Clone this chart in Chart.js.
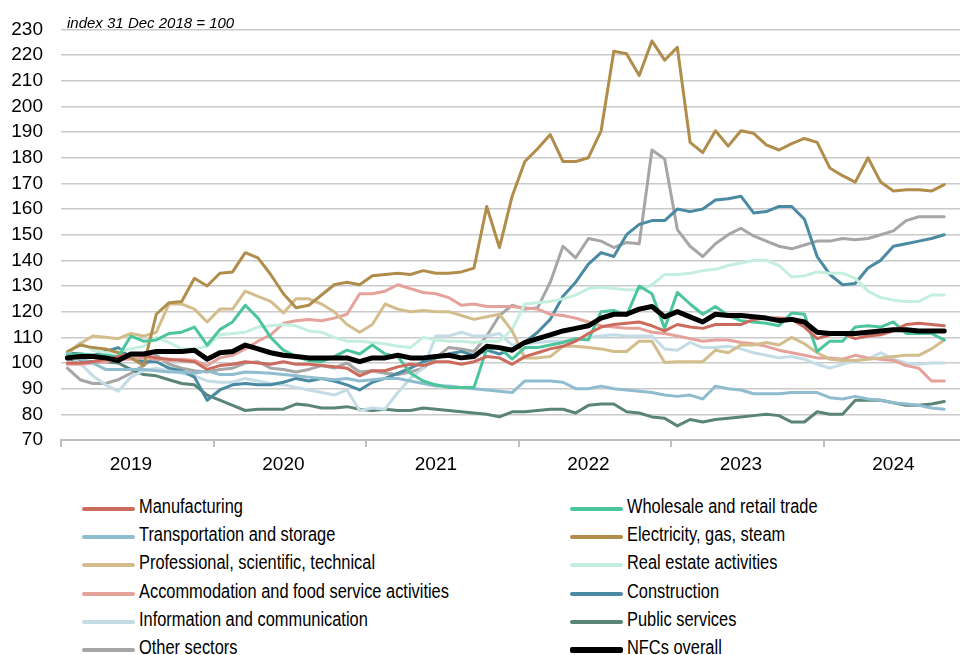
<!DOCTYPE html>
<html>
<head>
<meta charset="utf-8">
<script src="https://cdn.jsdelivr.net/npm/chart.js@4.4.1/dist/chart.umd.min.js"></script>
<style>
    body { margin: 0; background: #fff; overflow: hidden; width: 960px; height: 655px; position: relative; }
    #wrap { position: absolute; left: 0; top: 0; width: 976px; height: 485px; }
    #note { position: absolute; left: 67px; top: 14px; font: italic 15px 'Liberation Sans', Arial, sans-serif; color: #000; }
    .item { position: absolute; height: 28px; line-height: 28px; white-space: nowrap;
        font: 20px 'Liberation Sans', Arial, sans-serif; color: #000; }
    .item span.swatch { position: absolute; top: 12px; height: 4px; width: 53px; border-radius: 2px; }
    .item span.txt { position: absolute; transform: scaleX(0.82); transform-origin: 0 50%; }
</style>
</head>
<body>
<div id="wrap"><canvas id="myChart" width="976" height="485"></canvas></div>
<div id="note">index 31 Dec 2018 = 100</div>
<div id="legend"></div>

<script>
    // monthly, Jan 2019 - Oct 2024 (axis runs to Dec 2024)
    var years = ['2019', '2020', '2021', '2022', '2023', '2024'];

    var names = ['Manufacturing', 'Wholesale and retail trade', 'Transportation and storage', 'Electricity, gas, steam',
        'Professional, scientific, technical', 'Real estate activities', 'Accommodation and food service activities',
        'Construction', 'Information and communication', 'Public services', 'Other sectors', 'NFCs overall'];

    var colors = ['#cb6b5e', '#4cc59a', '#8fbccf', '#b08d4a', '#d3bd8c', '#c4eedd', '#e4a29b',
        '#4a8aa2', '#c4dce5', '#5a8474', '#a6a6a6', '#000000'];

    var manufacturing = [100, 100, 100.5, 101.5, 102.5, 103, 103, 102, 101.5, 101, 100.5, 97.5, 99, 99.5, 100.5,
        100, 99.5, 100.5, 99.5, 99.5, 99, 98.5, 98, 95, 97, 97, 98.5, 99.5, 99,
        100.5, 100.5, 99.5, 100.5, 102.5, 102, 99.5, 102.5, 104, 105.5, 106.5, 108.5, 111.5, 114,
        115, 115.5, 116, 114.5, 112.5, 115, 114, 113.5, 115, 115, 115, 117, 117.5, 117.5, 117,
        114, 109.5, 111, 111.5, 109.5, 110.5, 111, 112.5, 115, 115.5, 115, 114.5];

    var wholesale = [103, 103.5, 103, 103, 102.5, 110.5, 108.5, 109, 111.5, 112, 114, 107, 113, 116, 122.5,
        117.5, 110, 105, 102.5, 101, 100.5, 102.5, 105, 103.5, 107, 103.5, 102.5, 96, 93,
        91.5, 90.5, 90.5, 90.5, 105.5, 106, 101.5, 106, 106, 107, 108, 109.5, 109, 120,
        120.5, 118.5, 130, 127, 113.5, 127.5, 123, 119, 122, 118.5, 116.5, 116, 115.5, 114.5, 119.5,
        119, 104.5, 108.5, 108.5, 114, 114.5, 114, 116, 111.5, 111.5, 111.5, 109];

    var transport = [104, 101.5, 100, 97.5, 97.5, 97.5, 97.5, 97, 96.5, 96.5, 96, 97, 95.5, 95.5, 96.5,
        96.3, 96, 95.5, 95, 94.5, 94, 93.5, 94, 93, 93.5, 94, 94, 93, 92,
        91, 91, 90.5, 90, 89.5, 89, 88.5, 93, 93, 93, 92.5, 90, 90, 91,
        90, 89.5, 89, 88.5, 87.5, 87, 87.5, 86, 91, 90, 89.5, 88, 88, 88, 88.5,
        88.5, 88.5, 86.5, 86, 87, 86, 85.5, 84.5, 84, 83.5, 82.5, 82];

    var electricity = [104.5, 107, 106, 105.5, 104, 102, 99, 119, 123.5, 124, 133, 130, 135, 135.5, 143,
        141, 134.5, 127, 121.5, 122.5, 126.5, 130.5, 131.5, 130.5, 134, 134.5, 135, 134.5, 136,
        135, 135, 135.5, 137, 161, 145, 165, 178.5, 183.5, 189, 178.5, 178.5, 180, 190.5,
        221.5, 220.5, 212, 225.5, 218, 223, 186, 182, 190.5, 184.5, 190.5, 189.5, 185, 183, 185.5,
        187.5, 186, 176, 173, 170.5, 180, 170.5, 167, 167.5, 167.5, 167, 169.5];

    var professional = [104, 107.5, 110.5, 110, 109.5, 111.5, 110.5, 112, 123, 123, 121, 116, 121, 121, 128,
        126, 124, 119.5, 125, 125, 123, 120, 115, 112, 115, 123, 121, 120, 120.5,
        120, 120, 118.5, 117, 118, 119, 112.5, 102, 102, 102.5, 106.5, 106.5, 106, 105.5,
        104.5, 104.5, 108.5, 108.5, 100.2, 100.5, 100.5, 100.5, 105, 104, 107, 107, 108, 107, 110,
        107.5, 104, 101.5, 101, 101, 101.5, 102, 102.5, 103, 103, 105.5, 109];

    var realEstate = [103.5, 108, 105, 104, 104.5, 105.5, 106.5, 110, 108, 105.5, 105.5, 106.5, 111, 111.5, 112,
        114, 114.5, 115, 114.5, 112.5, 112, 110, 108.5, 108.5, 108, 107.5, 106.5, 106, 110,
        109, 108.5, 108.5, 108, 108.5, 108.5, 113, 123, 123.5, 124, 125, 126.5, 129, 129.5,
        129, 128.5, 128.5, 130.5, 134.5, 134.5, 135, 136, 136.5, 138, 139, 140, 140, 138, 133.5,
        134, 135.5, 135, 135, 133, 128, 125.5, 124.5, 124, 124, 126.5, 126.5];

    var accommodation = [99.5, 99.5, 100, 100.5, 101.5, 101.5, 102, 101.5, 101, 101.5, 101, 99, 102, 103, 105.5,
        108.5, 111, 115.5, 116.5, 117, 116.5, 117.5, 119, 127, 127, 128, 130.5, 129, 127.5,
        127, 125.5, 122.5, 123, 122, 122, 122, 121.5, 121, 119, 118.5, 117.5, 116, 114.5,
        114, 113.5, 113.5, 112, 111.5, 110.5, 109.5, 108.5, 109, 109, 108, 107.5, 106.5, 105, 104,
        103, 102, 102, 101.5, 103, 102, 101.5, 101, 99, 98, 93, 93];

    var construction = [104, 103.5, 103, 104.5, 106, 102, 100.5, 100.5, 98, 97, 94.5, 85.5, 89.5, 91.5,
        92, 91.5, 91.5, 92.5, 94, 93, 94, 93, 91.5, 89.5, 92.5, 94, 96, 98, 100.5,
        102, 103.5, 104.5, 103, 105, 103.5, 105.5, 108, 112, 117, 126, 131.5, 138.5, 143, 141.5,
        150, 154, 155.5, 155.5, 160, 159, 160, 163.5, 164, 165, 158.5, 159, 161, 161,
        156, 141.5, 134.5, 130.5, 131, 137, 140, 145.5, 146.5, 147.5, 148.5, 150];

    var information = [103, 100, 95, 91.5, 89, 94.5, 97, 98, 97, 96, 95, 93, 92.5, 92.5, 94,
        93, 92, 91.5, 90.5, 89.5, 88.5, 87.5, 89.5, 81.5, 82.5, 82, 88.5, 94, 98,
        110.5, 110.5, 112, 110.5, 110.5, 111.5, 107, 107.5, 108, 108.5, 108.5, 109, 110, 110.5,
        111, 110.5, 110.5, 110.5, 105.5, 105, 108, 106, 106, 106.5, 105.5, 104, 103, 102, 102.5,
        101.5, 99.5, 98, 99.5, 101, 101.5, 104, 101.5, 100, 99.5, 100, 100];

    var publicServices = [101.5, 101, 100.5, 100.5, 100, 97.5, 95.5, 95, 93.5, 92, 91.5, 87.5, 85.5, 83.5, 81.5,
        82, 82, 82, 84, 83.5, 82.5, 82.5, 83, 82, 81.5, 82, 81.5, 81.5, 82.5,
        82, 81.5, 81, 80.5, 80, 79, 81, 81, 81.5, 82, 82, 80.5, 83.5, 84,
        84, 81, 80.5, 79, 78.5, 75.5, 78, 77, 78, 78.5, 79, 79.5, 80, 79.5, 77,
        77, 81, 80, 80, 85.5, 85.5, 85.5, 84.5, 83.5, 83.5, 84, 85];

    var otherSectors = [98, 93.5, 92, 92, 93.5, 96, 99, 103, 99.5, 98, 97, 96.5, 97.5, 98, 100,
        100.5, 98, 97.5, 96.5, 97.5, 99, 98, 100, 96.5, 97, 96, 95.5, 96.5, 98,
        102, 106, 105.5, 104.5, 110.5, 118.5, 122.5, 121, 121.5, 131.5, 145.5, 141, 148.5, 147.5,
        145, 147, 146.5, 183, 179.5, 152, 145.5, 141.5, 146.5, 150, 152.5, 149.5, 147.5, 145.5, 144.5,
        146, 147.5, 147.5, 148.5, 148, 148.5, 150, 151.5, 155.5, 157, 157, 157];

    var nfcOverall = [102, 102.5, 102.5, 102, 101, 103.5, 103.5, 104.5, 104.5, 104.5, 105, 101.5, 104, 104.5, 107,
        105.5, 104, 103, 102.5, 102, 102, 102, 102, 100.5, 102, 102, 103, 102, 102,
        102.5, 103, 102, 102.5, 106.5, 106, 105, 108, 109.5, 111, 112.5, 113.5, 114.5, 117.5,
        119, 119, 121, 122, 118, 120, 118, 116, 119, 118.5, 118.5, 118, 117.5, 116.5, 117,
        116, 112, 111.5, 111.5, 111.5, 112, 112.5, 113, 113, 112.5, 112.5, 112.5];

    var series = [manufacturing, wholesale, transport, electricity, professional, realEstate, accommodation,
        construction, information, publicServices, otherSectors, nfcOverall];

    // 12 month slots per year on the category axis
    var months = [];
    for (var y = 0; y < years.length; y++) {
        for (var m = 0; m < 12; m++) {
            months.push(years[y] + '-' + (m + 1));
        }
    }

    var tickFont = "'Liberation Sans', Arial, sans-serif";

    var datasets = [];
    for (var i = 0; i < series.length; i++) {
        var last = i == series.length - 1;
        datasets.push({
            label: names[i],
            data: series[i],
            borderColor: colors[i],
            backgroundColor: colors[i],
            borderWidth: last ? 5 : 3,
            pointRadius: 0,
            tension: 0,
            borderJoinStyle: 'round',
            borderCapStyle: 'round',
            order: last ? 0 : 1 + i
        });
    }

    var ctx = document.getElementById('myChart').getContext('2d');
    var lineChart = new Chart(ctx, {
        type: 'line',
        data: { labels: months, datasets: datasets },
        options: {
            responsive: false,
            animation: false,
            devicePixelRatio: 1,
            layout: { padding: { top: 23, left: 0, right: 0, bottom: 0 } },
            plugins: { legend: { display: false }, tooltip: { enabled: false } },
            scales: {
                x: {
                    offset: true,
                    grid: {
                        offset: true,
                        drawOnChartArea: false,
                        tickLength: 7,
                        lineWidth: 2,
                        color: function (c) { return c.index % 12 === 0 ? '#bfbfbf' : 'rgba(0,0,0,0)'; }
                    },
                    border: { color: '#bfbfbf', width: 2 },
                    ticks: {
                        autoSkip: false,
                        maxRotation: 0,
                        padding: 6,
                        color: '#000',
                        font: { family: tickFont, size: 19 },
                        callback: function (v, idx) { return idx % 12 === 5 ? years[Math.floor(idx / 12)] : ''; }
                    },
                    afterFit: function (s) { s.height = 45; }
                },
                y: {
                    min: 70,
                    max: 230,
                    grid: { color: '#cacaca', lineWidth: 1.5, drawTicks: false },
                    border: { display: false },
                    ticks: { stepSize: 10, autoSkip: false, padding: 18, color: '#000', font: { family: tickFont, size: 19 } },
                    afterFit: function (s) { s.width = 61; }
                }
            }
        }
    });

    // two column legend under the chart
    var legend = document.getElementById('legend');
    for (var k = 0; k < names.length; k++) {
        var row = Math.floor(k / 2);
        var col = k % 2;
        var item = document.createElement('div');
        item.className = 'item';
        item.style.left = (col == 0 ? 82 : 570) + 'px';
        item.style.top = (495 + row * 28.2) + 'px';
        var sw = document.createElement('span');
        sw.className = 'swatch';
        sw.style.background = colors[k];
        if (k == names.length - 1) { sw.style.height = '6px'; sw.style.top = '11px'; }
        var tx = document.createElement('span');
        tx.className = 'txt';
        tx.style.left = '57px';
        tx.textContent = names[k];
        item.appendChild(sw);
        item.appendChild(tx);
        legend.appendChild(item);
    }
</script>
</body>
</html>
